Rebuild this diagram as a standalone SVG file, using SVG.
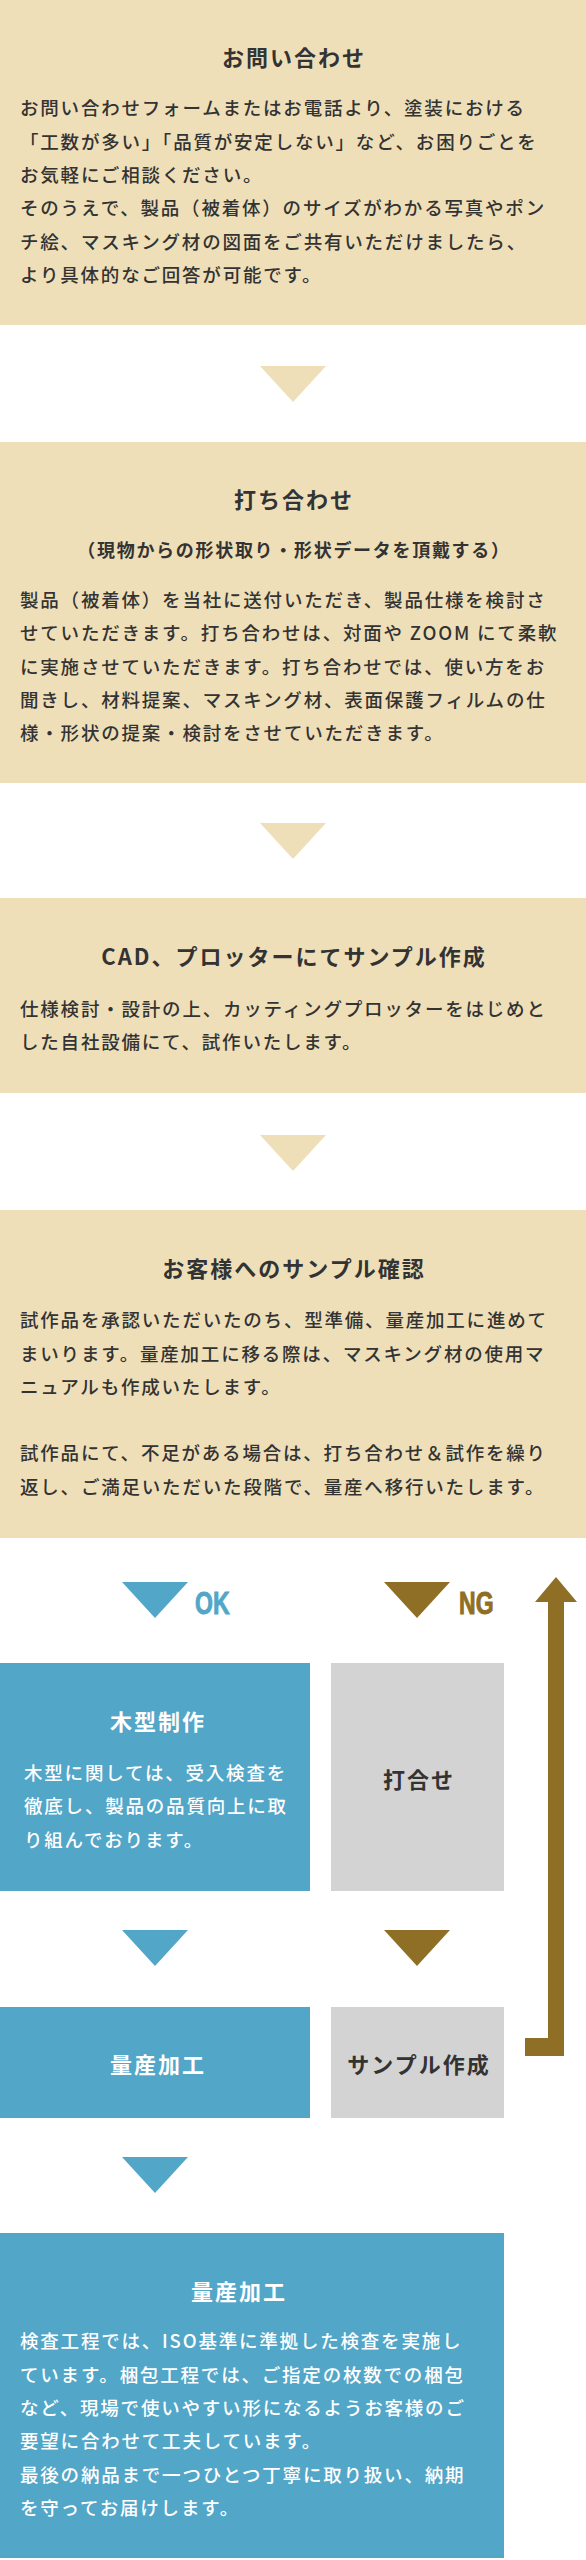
<svg xmlns="http://www.w3.org/2000/svg" width="586" height="2560" viewBox="0 0 586 2560">
<style>
.bg{fill:#EFDFB9}
.blue{fill:#52A6C8}
.brown{fill:#8F6F25}
.gray{fill:#D3D3D3}
text{font-family:"Noto Sans CJK JP","Noto Sans CJK SC",sans-serif}
.t{font-size:22px;font-weight:700;fill:#333;text-anchor:middle;letter-spacing:2px}
.st{font-size:18px;font-weight:700;fill:#333;text-anchor:middle;letter-spacing:1.7px}
.b{font-size:18.5px;font-weight:500;fill:#333;letter-spacing:1.8px}
.w{fill:#fff}
.lab{font-family:"Liberation Sans",Arial,sans-serif;font-size:32px;font-weight:700;stroke-width:1px}
</style>
<rect width="586" height="2560" fill="#fff"/>

<g id="step1">
<rect class="bg" x="0" y="0" width="586" height="325"/>
<text class="t" x="294" y="66">お問い合わせ</text>
<text class="b" x="20" y="115">お問い合わせフォームまたはお電話より、塗装における</text>
<text class="b" x="20" y="149">「工数が多い」「品質が安定しない」など、お困りごとを</text>
<text class="b" x="20" y="182">お気軽にご相談ください。</text>
<text class="b" x="20" y="215">そのうえで、製品（被着体）のサイズがわかる写真やポン</text>
<text class="b" x="20" y="249">チ絵、マスキング材の図面をご共有いただけましたら、</text>
<text class="b" x="20" y="282">より具体的なご回答が可能です。</text>
</g>

<g id="step2">
<rect class="bg" x="0" y="442" width="586" height="341"/>
<text class="t" x="294" y="508">打ち合わせ</text>
<text class="st" x="294" y="557">（現物からの形状取り・形状データを頂戴する）</text>
<text class="b" x="20" y="607">製品（被着体）を当社に送付いただき、製品仕様を検討さ</text>
<text class="b" x="20" y="640">せていただきます。打ち合わせは、対面や ZOOM にて柔軟</text>
<text class="b" x="20" y="674">に実施させていただきます。打ち合わせでは、使い方をお</text>
<text class="b" x="20" y="707">聞きし、材料提案、マスキング材、表面保護フィルムの仕</text>
<text class="b" x="20" y="740">様・形状の提案・検討をさせていただきます。</text>
</g>

<g id="step3">
<rect class="bg" x="0" y="898" width="586" height="195"/>
<text class="t" x="294" y="965">CAD、プロッターにてサンプル作成</text>
<text class="b" x="20" y="1016">仕様検討・設計の上、カッティングプロッターをはじめと</text>
<text class="b" x="20" y="1049">した自社設備にて、試作いたします。</text>
</g>

<g id="step4">
<rect class="bg" x="0" y="1210" width="586" height="328"/>
<text class="t" x="294" y="1277">お客様へのサンプル確認</text>
<text class="b" x="20" y="1327">試作品を承認いただいたのち、型準備、量産加工に進めて</text>
<text class="b" x="20" y="1361">まいります。量産加工に移る際は、マスキング材の使用マ</text>
<text class="b" x="20" y="1394">ニュアルも作成いたします。</text>
<text class="b" x="20" y="1460">試作品にて、不足がある場合は、打ち合わせ＆試作を繰り</text>
<text class="b" x="20" y="1494">返し、ご満足いただいた段階で、量産へ移行いたします。</text>
</g>

<g id="mokkei">
<rect class="blue" x="0" y="1663" width="310" height="228"/>
<text class="t w" x="158" y="1730">木型制作</text>
<text class="b w" x="24" y="1780">木型に関しては、受入検査を</text>
<text class="b w" x="24" y="1813">徹底し、製品の品質向上に取</text>
<text class="b w" x="24" y="1847">り組んでおります。</text>
</g>

<g id="uchiawase">
<rect class="gray" x="331" y="1663" width="173" height="228"/>
<text class="t" x="419" y="1788">打合せ</text>
</g>

<g id="ryousan1">
<rect class="blue" x="0" y="2007" width="310" height="111"/>
<text class="t w" x="158" y="2073">量産加工</text>
</g>

<g id="sample">
<rect class="gray" x="331" y="2007" width="173" height="111"/>
<text class="t" x="419" y="2073">サンプル作成</text>
</g>

<g id="ryousan2">
<rect class="blue" x="0" y="2233" width="504" height="325"/>
<text class="t w" x="239" y="2300">量産加工</text>
<text class="b w" x="20" y="2348">検査工程では、ISO基準に準拠した検査を実施し</text>
<text class="b w" x="20" y="2382">ています。梱包工程では、ご指定の枚数での梱包</text>
<text class="b w" x="20" y="2415">など、現場で使いやすい形になるようお客様のご</text>
<text class="b w" x="20" y="2448">要望に合わせて工夫しています。</text>
<text class="b w" x="20" y="2482">最後の納品まで一つひとつ丁寧に取り扱い、納期</text>
<text class="b w" x="20" y="2515">を守ってお届けします。</text>
</g>

<g id="connectors">
<polygon class="bg" points="260,366 326,366 293,402"/>
<polygon class="bg" points="260,823 326,823 293,859"/>
<polygon class="bg" points="260,1135 326,1135 293,1171"/>
<polygon class="blue" points="122,1582 188,1582 155,1618"/>
<text class="lab" transform="translate(195,1614) scale(0.72,1)" fill="#52A6C8" stroke="#52A6C8">OK</text>
<polygon class="brown" points="384,1582 450,1582 417,1618"/>
<text class="lab" transform="translate(459,1614) scale(0.72,1)" fill="#8F6F25" stroke="#8F6F25">NG</text>
<polygon class="blue" points="122,1930 188,1930 155,1966"/>
<polygon class="brown" points="384,1930 450,1930 417,1966"/>
<polygon class="blue" points="122,2157 188,2157 155,2193"/>
<polygon class="brown" points="525,2056 564,2056 564,1602 577,1602 556,1577 535,1602 548,1602 548,2038 525,2038"/>
</g>
</svg>
